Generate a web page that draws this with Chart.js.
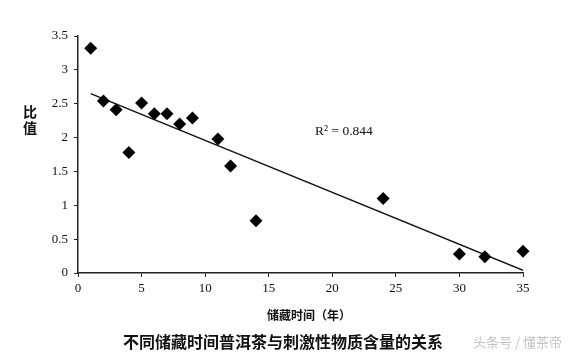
<!DOCTYPE html>
<html>
<head>
<meta charset="utf-8">
<script src="https://cdn.jsdelivr.net/npm/chart.js@4"></script>
<style>
  body { margin: 0; background: #fff; }
  #wrap { position: relative; width: 573px; height: 354px; }
  .txt { position: absolute; white-space: nowrap; color: #111; }
  #ylab { left: 22px; top: 103px; font: bold 14px "Noto Sans CJK SC"; line-height: 16px; width: 16px; text-align: center; }
  #xlab { left: 267px; top: 306px; font: bold 12px "Noto Sans CJK SC"; }
  #r2 { left: 315px; top: 123px; font: 13.5px "Liberation Serif"; }
  #cap { left: 123px; top: 329px; font: bold 16px "Noto Sans CJK SC"; }
  #mark { left: 473px; top: 332px; font: 13px "Noto Sans CJK SC"; color: #c4c4c4; }
</style>
</head>
<body>
<div id="wrap">
  <canvas id="chart" width="573" height="354"></canvas>
  <div class="txt" id="ylab">比<br>值</div>
  <div class="txt" id="xlab">储藏时间（年）</div>
  <div class="txt" id="r2">R² = 0.844</div>
  <div class="txt" id="cap">不同储藏时间普洱茶与刺激性物质含量的关系</div>
  <div class="txt" id="mark">头条号 / 懂茶帝</div>
</div>
<script>
// storage years and ratio values
var years = [1, 2, 3, 4, 5, 6, 7, 8, 9, 11, 12, 14, 24, 30, 32, 35];
var ratios = [3.32, 2.54, 2.41, 1.78, 2.51, 2.35, 2.35, 2.20, 2.29, 1.98, 1.58, 0.77, 1.10, 0.28, 0.24, 0.32];
// fitted trend line end points
var trendX = [1, 35];
var trendY = [2.65, 0.04];
var xTicks = [0, 5, 10, 15, 20, 25, 30, 35];
var yTicks = [0, 0.5, 1, 1.5, 2, 2.5, 3, 3.5];

var points = years.map(function (x, i) { return { x: x, y: ratios[i] }; });
var trend = trendX.map(function (x, i) { return { x: x, y: trendY[i] }; });

var ctx = document.getElementById('chart').getContext('2d');
var myChart = new Chart(ctx, {
    type: 'scatter',
    data: {
        datasets: [
            {
                data: points,
                pointStyle: 'rectRot',
                pointRadius: 6.5,
                backgroundColor: '#000',
                borderColor: '#000',
                borderWidth: 0,
                clip: false,
            },
            {
                type: 'line',
                data: trend,
                borderColor: '#111',
                borderWidth: 1.3,
                pointRadius: 0,
                fill: false,
            },
        ],
    },
    options: {
        responsive: false,
        animation: false,
        layout: { padding: { top: 36, right: 50, left: 0, bottom: 0 } },
        plugins: { legend: { display: false }, tooltip: { enabled: false } },
        scales: {
            x: {
                type: 'linear',
                min: 0,
                max: 35,
                afterBuildTicks: function (s) { s.ticks = xTicks.map(function (v) { return { value: v }; }); },
                afterFit: function (s) { s.height = 81; },
                grid: { drawOnChartArea: false, drawTicks: true, tickLength: 4, color: '#222' },
                border: { color: '#222', width: 1.5 },
                ticks: { color: '#111', padding: 4, font: { family: 'Liberation Serif', size: 13 } },
            },
            y: {
                min: 0,
                max: 3.5,
                afterBuildTicks: function (s) { s.ticks = yTicks.map(function (v) { return { value: v }; }); },
                afterFit: function (s) { s.width = 78; },
                grid: { drawOnChartArea: false, drawTicks: true, tickLength: 4, color: '#222' },
                border: { color: '#222', width: 1.5 },
                ticks: {
                    color: '#111',
                    padding: 6,
                    font: { family: 'Liberation Serif', size: 13 },
                    callback: function (v) { return String(v); },
                },
            },
        },
    },
});
</script>
</body>
</html>
